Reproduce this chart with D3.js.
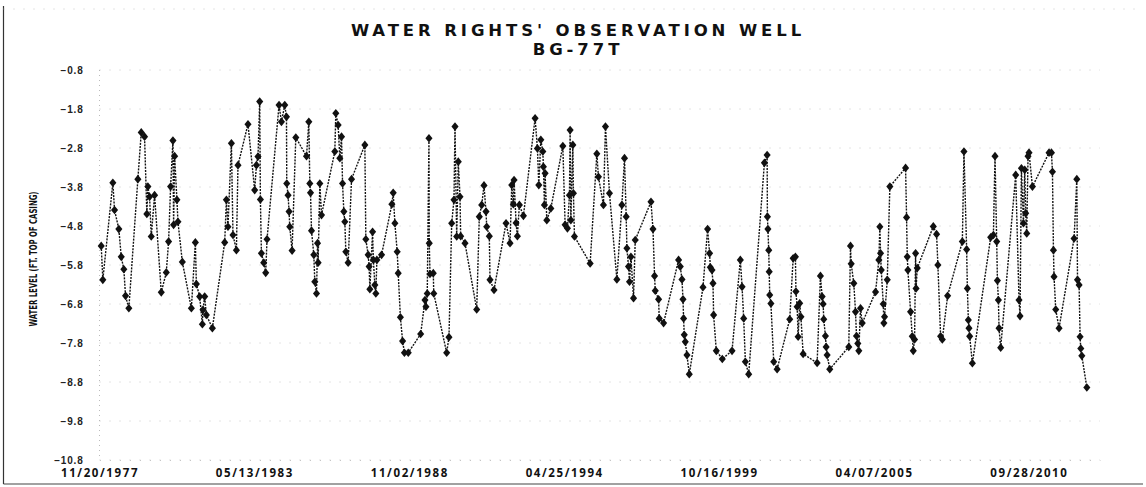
<!DOCTYPE html>
<html>
<head>
<meta charset="utf-8">
<script src="https://cdn.jsdelivr.net/npm/d3@7"></script>
<style>
  body { margin: 0; background: #fff; }
  svg { display: block; }
</style>
</head>
<body>
<div id="chart"></div>
<script>
// dates as decimal years
const dates = [
  1977.946, 1978.003, 1978.357, 1978.417, 1978.569, 1978.654, 1978.746, 1978.806, 1978.923,
  1979.242, 1979.362, 1979.479, 1979.560, 1979.596, 1979.656, 1979.716, 1979.833,
  1980.070, 1980.247, 1980.328, 1980.399, 1980.481, 1980.505, 1980.541, 1980.622, 1980.658, 1980.813,
  1981.132, 1981.273, 1981.309, 1981.426, 1981.521, 1981.542, 1981.603, 1981.663, 1981.875,
  1982.311, 1982.371, 1982.427, 1982.548, 1982.604, 1982.725, 1982.781,
  1983.135, 1983.372, 1983.433, 1983.489, 1983.549, 1983.574, 1983.610, 1983.691, 1983.762, 1983.808,
  1984.233, 1984.318, 1984.434, 1984.495, 1984.505, 1984.551, 1984.587, 1984.611, 1984.693, 1984.824,
  1985.202, 1985.284, 1985.319, 1985.344, 1985.379, 1985.461, 1985.496, 1985.556, 1985.592, 1985.613, 1985.673, 1985.733,
  1986.204, 1986.239, 1986.321, 1986.381, 1986.441, 1986.477, 1986.523, 1986.558, 1986.593, 1986.675, 1986.795,
  1987.266, 1987.301, 1987.383, 1987.418, 1987.443, 1987.539, 1987.567, 1987.620, 1987.655, 1987.691, 1987.857,
  1988.222, 1988.268, 1988.328, 1988.409, 1988.445, 1988.522, 1988.600, 1988.664, 1988.799,
  1989.238, 1989.390, 1989.425, 1989.471, 1989.531, 1989.542, 1989.567, 1989.684, 1989.701,
  1990.158, 1990.239, 1990.335, 1990.416, 1990.452, 1990.512, 1990.568, 1990.629, 1990.653, 1990.806,
  1991.220, 1991.312, 1991.397, 1991.478, 1991.549, 1991.574, 1991.666, 1991.690, 1991.832,
  1992.257, 1992.398, 1992.459, 1992.515, 1992.540, 1992.611, 1992.657, 1992.728, 1992.870,
  1993.283, 1993.365, 1993.414, 1993.485, 1993.556, 1993.577, 1993.613, 1993.637, 1993.697, 1993.839,
  1994.264, 1994.345, 1994.427, 1994.498, 1994.522, 1994.547, 1994.618, 1994.639, 1994.675,
  1995.230, 1995.467, 1995.524, 1995.701, 1995.772, 1995.914,
  1996.175, 1996.352, 1996.444, 1996.504, 1996.529, 1996.586, 1996.621, 1996.671, 1996.763, 1996.823,
  1997.379, 1997.450, 1997.506, 1997.531, 1997.648, 1997.672, 1997.825,
  1998.356, 1998.416, 1998.476, 1998.512, 1998.533, 1998.557, 1998.593, 1998.653, 1998.734,
  1999.219, 1999.382, 1999.453, 1999.478, 1999.538, 1999.573, 1999.595, 1999.690, 1999.902,
  2000.246, 2000.539, 2000.600, 2000.657, 2000.716, 2000.834,
  2001.389, 2001.485, 2001.495, 2001.513, 2001.542, 2001.559, 2001.577, 2001.619, 2001.719, 2001.839,
  2002.285, 2002.406, 2002.486, 2002.504, 2002.547, 2002.582, 2002.638, 2002.681, 2002.759,
  2003.254, 2003.371, 2003.431, 2003.467, 2003.488, 2003.548, 2003.573, 2003.608, 2003.701,
  2004.373, 2004.433, 2004.458, 2004.550, 2004.610, 2004.645, 2004.691, 2004.727, 2004.787, 2004.847,
  2005.318, 2005.435, 2005.470, 2005.495, 2005.520, 2005.591, 2005.612, 2005.636, 2005.732, 2005.824,
  2006.380, 2006.415, 2006.440, 2006.462, 2006.557, 2006.617, 2006.652, 2006.698, 2006.734, 2006.751, 2006.794,
  2007.361, 2007.477, 2007.523, 2007.619, 2007.679, 2007.867,
  2008.387, 2008.444, 2008.539, 2008.564, 2008.599, 2008.621, 2008.646, 2008.741,
  2009.388, 2009.484, 2009.541, 2009.601, 2009.626, 2009.661, 2009.683, 2009.742,
  2010.273, 2010.390, 2010.426, 2010.475, 2010.546, 2010.592, 2010.627, 2010.663, 2010.709, 2010.744, 2010.865,
  2011.452, 2011.537, 2011.573, 2011.608, 2011.629, 2011.689, 2011.806,
  2012.337, 2012.433, 2012.458, 2012.514, 2012.549, 2012.574, 2012.610, 2012.787
];

// water level (ft, top of casing)
const levels = [
  -5.31, -6.18, -3.69, -4.39, -4.88, -5.59, -5.91, -6.59, -6.91,
  -3.60, -2.40, -2.51, -4.49, -3.79, -4.05, -5.07, -4.01,
  -6.50, -5.99, -5.20, -3.79, -2.61, -4.77, -3.01, -4.13, -4.69, -5.72,
  -6.91, -5.22, -6.29, -6.61, -7.32, -6.95, -6.61, -7.08, -7.42,
  -5.22, -4.13, -4.82, -2.68, -5.03, -5.42, -3.24,
  -2.19, -3.88, -3.24, -3.02, -1.61, -4.12, -5.50, -5.74, -6.00, -5.14,
  -1.70, -2.13, -1.70, -2.00, -3.71, -4.01, -4.43, -4.82, -5.43, -2.53,
  -3.01, -2.13, -3.71, -3.95, -4.92, -5.54, -6.23, -6.53, -5.24, -5.74, -3.71, -4.52,
  -2.89, -1.91, -2.21, -3.06, -2.51, -3.71, -4.43, -4.69, -5.46, -5.74, -3.60,
  -2.72, -5.14, -5.54, -5.84, -6.42, -4.95, -5.67, -6.31, -6.53, -5.67, -5.54,
  -4.24, -3.95, -4.73, -5.46, -6.01, -7.14, -7.75, -8.05, -8.05,
  -7.57, -6.70, -6.87, -6.53, -2.55, -5.24, -6.03, -6.01, -6.53,
  -8.05, -7.65, -4.73, -4.13, -2.25, -5.07, -3.15, -4.05, -5.06, -5.24,
  -6.94, -4.56, -4.26, -3.76, -4.43, -4.82, -5.06, -6.18, -6.44,
  -4.73, -5.24, -3.75, -4.24, -3.62, -4.72, -5.06, -4.26, -4.54,
  -2.04, -2.81, -3.75, -2.59, -2.89, -3.28, -4.26, -3.45, -4.65, -4.35,
  -2.75, -4.77, -4.86, -4.01, -2.34, -4.65, -2.72, -3.96, -5.07,
  -5.76, -2.95, -3.54, -4.26, -2.25, -3.96,
  -6.17, -4.26, -3.06, -4.56, -5.37, -5.84, -6.23, -5.59, -6.65, -5.16,
  -4.18, -4.88, -6.08, -6.46, -6.68, -7.17, -7.29,
  -5.67, -5.84, -6.17, -6.68, -7.17, -7.59, -7.77, -8.11, -8.60,
  -6.37, -4.88, -5.50, -5.86, -5.93, -6.27, -7.08, -8.00, -8.21,
  -8.00, -5.67, -6.36, -7.17, -8.28, -8.60,
  -3.18, -2.98, -4.56, -4.88, -5.42, -5.97, -6.57, -6.79, -8.28, -8.47,
  -7.19, -5.63, -5.59, -6.48, -6.87, -7.64, -6.78, -7.13, -8.08,
  -8.31, -6.08, -6.61, -6.80, -7.19, -7.62, -7.90, -8.11, -8.47,
  -7.90, -5.31, -5.77, -6.27, -7.00, -7.62, -7.81, -8.00, -6.91, -7.29,
  -6.49, -5.67, -4.82, -5.50, -5.93, -6.80, -7.29, -7.13, -6.18, -3.79,
  -3.31, -4.58, -5.59, -5.93, -7.00, -7.63, -8.00, -7.71, -5.50, -6.40, -5.88,
  -4.81, -5.01, -5.80, -7.63, -7.71, -6.59,
  -5.20, -2.89, -5.40, -6.40, -7.21, -7.42, -7.63, -8.32,
  -5.09, -5.03, -3.01, -5.20, -6.20, -6.70, -7.42, -7.92,
  -3.49, -6.70, -7.11, -3.32, -4.73, -3.36, -4.47, -4.99, -3.01, -2.92, -3.79,
  -2.92, -2.92, -3.41, -5.42, -6.10, -6.94, -7.42,
  -5.12, -3.60, -6.18, -6.31, -7.64, -7.94, -8.13, -8.94
];

const xTickLabels = ["11/20/1977", "05/13/1983", "11/02/1988", "04/25/1994", "10/16/1999", "04/07/2005", "09/28/2010"];
const yTickValues = [-0.8, -1.8, -2.8, -3.8, -4.8, -5.8, -6.8, -7.8, -8.8, -9.8, -10.8];

const W = 1146, H = 487;
const plot = {left: 99.5, right: 1100, top: 70, bottom: 460};

const parseDate = d3.timeParse("%m/%d/%Y");
function fromDecimalYear(v) {
  const y0 = Math.floor(v);
  const a = new Date(y0, 0, 1), b = new Date(y0 + 1, 0, 1);
  return new Date(+a + (v - y0) * (b - a));
}

const data = dates.map((d, i) => ({date: fromDecimalYear(d), value: levels[i]}));

const svg = d3.select("#chart").append("svg")
  .attr("width", W)
  .attr("height", H);

// frame (scanned page look)
svg.append("line").attr("x1", 3.5).attr("x2", 3.5).attr("y1", 6).attr("y2", 484)
  .attr("stroke", "#333").attr("stroke-width", 1.2);
svg.append("line").attr("x1", 3.5).attr("x2", 1143).attr("y1", 484).attr("y2", 484)
  .attr("stroke", "#444").attr("stroke-width", 1.2);
svg.append("line").attr("x1", 3.5).attr("x2", 1143).attr("y1", 9).attr("y2", 9)
  .attr("stroke", "#bbb").attr("stroke-width", 0.8).attr("stroke-dasharray", "1,9");

const start = parseDate(xTickLabels[0]);
const x = d3.scaleTime()
  .domain([start, d3.timeDay.offset(start, 12918)])
  .range([plot.left, plot.right]);

const y = d3.scaleLinear()
  .domain([-10.8, -0.8])
  .range([plot.bottom, plot.top]);

// gridlines
svg.append("g")
  .selectAll("line")
  .data(yTickValues)
  .join("line")
  .attr("x1", plot.left).attr("x2", plot.right)
  .attr("y1", d => y(d)).attr("y2", d => y(d))
  .attr("stroke", "#bbb")
  .attr("stroke-width", 0.8)
  .attr("stroke-dasharray", "1,9");

svg.append("line")
  .attr("x1", plot.left).attr("x2", plot.left)
  .attr("y1", plot.top).attr("y2", plot.bottom)
  .attr("stroke", "#aaa").attr("stroke-width", 0.8).attr("stroke-dasharray", "1,4");

// Y axis
const yAxis = svg.append("g")
  .attr("transform", `translate(${plot.left},0)`)
  .call(d3.axisLeft(y).tickValues(yTickValues).tickSize(0).tickPadding(16)
    .tickFormat(d3.format(".1f")));
yAxis.select(".domain").remove();
yAxis.selectAll("text")
  .attr("font-family", "'Liberation Sans', Arial, sans-serif")
  .attr("font-size", 10)
  .attr("font-weight", "bold")
  .attr("letter-spacing", 0.8)
  .attr("fill", "#222");

// X axis
const xAxis = svg.append("g")
  .attr("transform", `translate(0,${plot.bottom})`)
  .call(d3.axisBottom(x).tickValues(xTickLabels.map(parseDate)).tickSize(0).tickPadding(9)
    .tickFormat(d3.timeFormat("%m/%d/%Y")));
xAxis.select(".domain")
  .attr("stroke", "#bbb").attr("stroke-width", 0.8).attr("stroke-dasharray", "1,9");
xAxis.selectAll("text")
  .attr("font-family", "'Open Sans', sans-serif")
  .attr("font-size", 11.5)
  .attr("font-weight", "bold")
  .attr("letter-spacing", 1.6)
  .attr("fill", "#111");

// titles
const titleLines = ["WATER RIGHTS' OBSERVATION WELL", "BG-77T"];
svg.append("g")
  .selectAll("text")
  .data(titleLines)
  .join("text")
  .attr("x", 578).attr("y", (d, i) => 35.5 + i * 19.5)
  .attr("text-anchor", "middle")
  .attr("font-family", "'DejaVu Sans', sans-serif")
  .attr("font-weight", "bold")
  .attr("font-size", 16.5)
  .attr("letter-spacing", 3.9)
  .attr("fill", "#111")
  .text(d => d);

svg.append("text")
  .attr("transform", "translate(36.5,259) rotate(-90)")
  .attr("text-anchor", "middle")
  .attr("font-family", "'Liberation Sans Narrow', 'DejaVu Sans Condensed', sans-serif")
  .attr("font-weight", "bold")
  .attr("font-size", 10)
  .attr("textLength", 135)
  .attr("lengthAdjust", "spacingAndGlyphs")
  .attr("fill", "#111")
  .text("WATER LEVEL (FT. TOP OF CASING)");

// series line
const line = d3.line()
  .x(d => x(d.date))
  .y(d => y(d.value));

svg.append("path")
  .datum(data)
  .attr("d", line)
  .attr("fill", "none")
  .attr("stroke", "#111")
  .attr("stroke-width", 1.4)
  .attr("stroke-dasharray", "2,1.2");

// markers
const marker = d3.symbol().type(d3.symbolDiamond).size(24);
svg.append("g")
  .selectAll("path")
  .data(data)
  .join("path")
  .attr("d", marker)
  .attr("transform", d => `translate(${x(d.date)},${y(d.value)}) scale(1.35,0.95)`)
  .attr("fill", "#111");
</script>
</body>
</html>
